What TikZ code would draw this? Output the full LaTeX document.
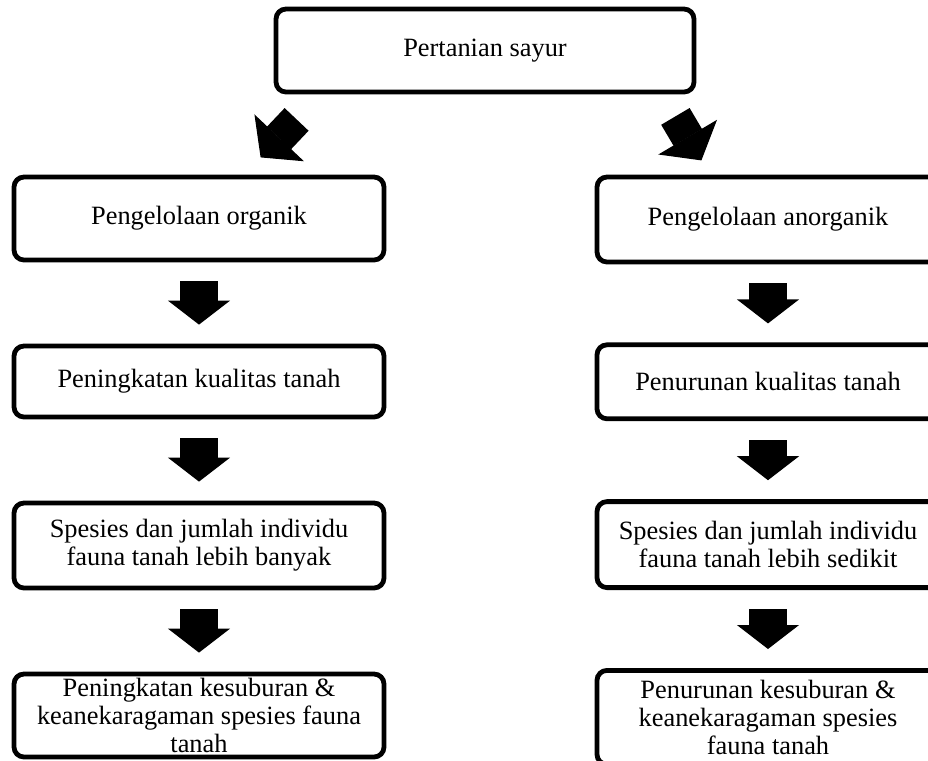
\documentclass[tikz,border=0pt]{standalone}
\usepackage{fontspec}
\setmainfont{Liberation Serif}
\usetikzlibrary{arrows.meta, positioning, calc}

\begin{document}
\begin{tikzpicture}[
    x=0.5pt, y=-0.5pt,
    node distance = 40.6pt,
    every node/.style = {font=\fontsize{13.2}{13.9}\selectfont},
    box/.style  = {rectangle, rounded corners=5pt, draw, line width=2.4pt,
                   align=center, minimum height=41.5pt, inner sep=1pt},
    lbox/.style = {box, minimum width=185pt},
    rbox/.style = {box, minimum width=171pt},
    blk/.style  = {line width=19pt, shorten <=9.5pt, shorten >=9.5pt,
                   -{Triangle[length=12pt, width=31pt, line width=0.6pt]}},
    dblk/.style = {line width=16.5pt,
                   -{Triangle[length=13.5pt, width=34pt, line width=0.6pt]}}
  ]
  \useasboundingbox (0,0) rectangle (928,761);

  % nodes
  \node[box, minimum width=209pt] (top) at (485,50.5) {Pertanian sayur};

  \node[lbox] (org1) at (199,218.5) {Pengelolaan organik};
  \node[lbox, minimum height=35.5pt] (org2) [below=of org1] {Peningkatan kualitas tanah};
  \node[lbox, minimum height=42.5pt] (org3) [below=of org2] {Spesies dan jumlah individu\\fauna tanah lebih banyak};
  \node[lbox] (org4) [below=of org3] {Peningkatan kesuburan \&\\keanekaragaman spesies fauna\\tanah};

  \node[rbox, minimum height=42.5pt] (ano1) at (768,219.5) {Pengelolaan anorganik};
  \node[rbox, minimum height=37pt] (ano2) [below=39pt of ano1] {Penurunan kualitas tanah};
  \node[rbox, minimum height=43pt] (ano3) [below=39pt of ano2] {Spesies dan jumlah individu\\fauna tanah lebih sedikit};
  \node[rbox, minimum height=47pt] (ano4) [below=39pt of ano3] {Penurunan kesuburan \&\\keanekaragaman spesies\\fauna tanah};

  % edges
  \draw[dblk] ($(top.south west)+(23,25)$) -- ($(top.south west)+(-13,63)$);
  \draw[dblk] ($(top.south east)+(-21,22)$) -- ($(top.south east)+(5,66)$);
  \draw[blk] (org1) -- (org2);
  \draw[blk] (org2) -- (org3);
  \draw[blk] (org3) -- (org4);
  \draw[blk] (ano1) -- (ano2);
  \draw[blk] (ano2) -- (ano3);
  \draw[blk] (ano3) -- (ano4);

\end{tikzpicture}
\end{document}
